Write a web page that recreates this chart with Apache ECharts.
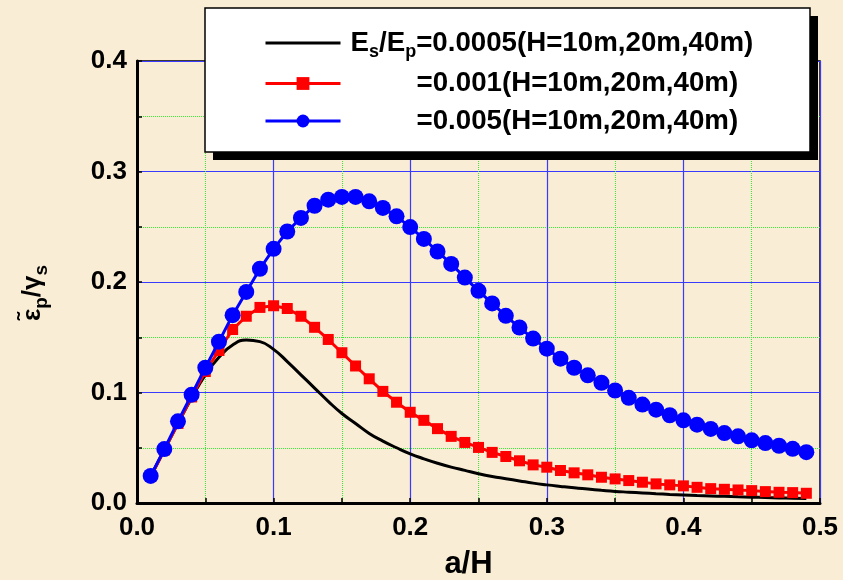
<!DOCTYPE html>
<html>
<head>
<meta charset="utf-8">
<script src="https://cdn.jsdelivr.net/npm/echarts@6/dist/echarts.min.js"></script>
<style>
html,body{margin:0;padding:0;background:#f9edd5;}
#c{width:843px;height:580px;}
</style>
</head>
<body>
<div id="c"></div>
<script>
// a/H values
const xs = [0.01,0.02,0.03,0.04,0.05,0.06,0.07,0.08,0.09,0.10,
            0.11,0.12,0.13,0.14,0.15,0.16,0.17,0.18,0.19,0.20,
            0.21,0.22,0.23,0.24,0.25,0.26,0.27,0.28,0.29,0.30,
            0.31,0.32,0.33,0.34,0.35,0.36,0.37,0.38,0.39,0.40,
            0.41,0.42,0.43,0.44,0.45,0.46,0.47,0.48,0.49];
// Es/Ep = 0.0005
const black = [0.024,0.048,0.072,0.095,0.116,0.132,0.143,0.1475,0.146,0.139,
               0.128,0.116,0.104,0.092,0.081,0.072,0.063,0.056,0.050,0.0445,
               0.040,0.036,0.0325,0.0295,0.0265,0.024,0.022,0.020,0.018,0.0164,
               0.015,0.0137,0.0126,0.0115,0.0105,0.0098,0.0091,0.0084,0.0078,0.0073,
               0.0068,0.0064,0.0060,0.0056,0.0053,0.0049,0.0046,0.0043,0.0040];
// Es/Ep = 0.001
const red = [0.024,0.048,0.072,0.096,0.119,0.138,0.157,0.169,0.177,0.1785,
             0.176,0.169,0.159,0.148,0.136,0.124,0.1124,0.101,0.0912,0.0821,
             0.0748,0.0673,0.0603,0.0548,0.0503,0.0458,0.0421,0.0382,0.0345,0.0324,
             0.0294,0.0273,0.0255,0.0233,0.0218,0.0203,0.0188,0.0173,0.0164,0.0155,
             0.0142,0.0130,0.0124,0.0118,0.0112,0.0103,0.0097,0.0094,0.0088];
// Es/Ep = 0.005
const blue = [0.0245,0.0488,0.0739,0.098,0.1224,0.146,0.170,0.191,0.212,0.230,
              0.2457,0.258,0.269,0.2745,0.277,0.277,0.273,0.267,0.2594,0.2497,
              0.239,0.2276,0.2164,0.204,0.192,0.1806,0.1694,0.1588,0.1488,0.1397,
              0.1306,0.1224,0.1155,0.1088,0.1018,0.0952,0.0891,0.0845,0.0794,0.0748,
              0.0709,0.067,0.0633,0.0603,0.0567,0.0542,0.0518,0.049,0.046];
const seriesNames = ['Es/Ep=0.0005','=0.001','=0.005'];
const legendSuffix = '(H=10m,20m,40m)';

const pairs = arr => arr.map((v,i)=>[xs[i],v]);
const FONT = "'Liberation Sans', Arial, sans-serif";
const LF = 27.7;

const chart = echarts.init(document.getElementById('c'));
chart.setOption({
  backgroundColor: '#f9edd5',
  animation: false,
  grid: {left:137, right:23, top:61, bottom:77, outerBoundsMode:'none', containLabel:false,
         show:true, borderColor:'#000', borderWidth:1.5, backgroundColor:'transparent'},
  graphic: [
    {type:'rect', z:10, shape:{x:213, y:16, width:605, height:144}, style:{fill:'#000'}},
    {type:'rect', z:11, shape:{x:205, y:8, width:605, height:144}, style:{fill:'#fff', stroke:'#000', lineWidth:1.5}}
  ],
  legend: {
    orient:'vertical', left:264, top:25, z:20,
    padding:0,
    itemGap:7.5, itemWidth:75, itemHeight:16,
    backgroundColor:'transparent', borderWidth:0,
    selectedMode:false,
    lineStyle:{width:3},
    data: [
      {name:seriesNames[0], itemStyle:{opacity:0}},
      {name:seriesNames[1]},
      {name:seriesNames[2]}
    ],
    formatter: function(name){
      const i = seriesNames.indexOf(name);
      if(i===0){
        return '{f|E}{s|s}{m|/E}{s|p}{m|=0.0005' + legendSuffix + '}';
      }
      return '{pad|}{m|' + name + legendSuffix + '}';
    },
    textStyle:{
      fontFamily:FONT, fontWeight:'bold', fontSize:LF, color:'#000', lineHeight:30,
      rich:{
        f:{fontFamily:FONT, fontWeight:'bold', fontSize:LF, color:'#000', lineHeight:30, padding:[0,0,0,5]},
        m:{fontFamily:FONT, fontWeight:'bold', fontSize:LF, color:'#000', lineHeight:30},
        s:{fontFamily:FONT, fontWeight:'bold', fontSize:18, color:'#000', lineHeight:12, padding:[18,0,0,0]},
        pad:{width:71, lineHeight:30}
      }
    }
  },
  xAxis: {
    type:'value', min:0, max:0.5, interval:0.1,
    name:'a/H', nameLocation:'middle', nameGap:46,
    nameTextStyle:{fontFamily:FONT, fontWeight:'bold', fontSize:31, color:'#000', padding:[0,20,0,0]},
    axisLine:{show:true, onZero:false, lineStyle:{color:'#000', width:3}},
    axisTick:{show:true, inside:true, length:5, lineStyle:{color:'#000', width:1.5}},
    minorTick:{show:true, splitNumber:2, length:5, lineStyle:{color:'#000', width:1.5}},
    axisLabel:{fontFamily:FONT, fontWeight:'bold', fontSize:26, color:'#000', margin:12, formatter:v=>v.toFixed(1)},
    splitLine:{show:true, lineStyle:{color:'#3a3aff', width:1.2}},
    minorSplitLine:{show:true, lineStyle:{color:'#33ee33', width:1, type:'dotted'}}
  },
  yAxis: {
    type:'value', min:0, max:0.4, interval:0.1,
    name:'{g|ε̃}{sub|p}{g|/γ}{sub|s}{gap|}', nameLocation:'middle', nameGap:88, nameRotate:90,
    nameTextStyle:{
      fontFamily:FONT, fontWeight:'bold', fontSize:26, color:'#000',
      rich:{
        g:{fontFamily:FONT, fontWeight:'bold', fontSize:26, color:'#000', lineHeight:32},
        sub:{fontFamily:FONT, fontWeight:'bold', fontSize:19, color:'#000', lineHeight:14, padding:[18,0,0,0]},
        gap:{width:22, lineHeight:32}
      }
    },
    axisLine:{show:true, onZero:false, lineStyle:{color:'#000', width:3}},
    axisTick:{show:true, inside:true, length:5, lineStyle:{color:'#000', width:1.5}},
    minorTick:{show:true, splitNumber:2, length:5, lineStyle:{color:'#000', width:1.5}},
    axisLabel:{fontFamily:FONT, fontWeight:'bold', fontSize:26, color:'#000', margin:10, formatter:v=>v.toFixed(1)},
    splitLine:{show:true, lineStyle:{color:'#3a3aff', width:1.2}},
    minorSplitLine:{show:true, lineStyle:{color:'#33ee33', width:1, type:'dotted'}}
  },
  series: [
    {name:seriesNames[0], type:'line', data:pairs(black), smooth:true, symbol:'none',
     lineStyle:{color:'#000', width:3}, itemStyle:{color:'#000'}, z:2},
    {name:seriesNames[1], type:'line', data:pairs(red), symbol:'rect', symbolSize:11,
     lineStyle:{color:'#ff0000', width:3}, itemStyle:{color:'#ff0000'}, z:3},
    {name:seriesNames[2], type:'line', data:pairs(blue), symbol:'circle', symbolSize:16,
     lineStyle:{color:'#0000ff', width:3}, itemStyle:{color:'#0000ff'}, z:4}
  ]
});
</script>
</body>
</html>
